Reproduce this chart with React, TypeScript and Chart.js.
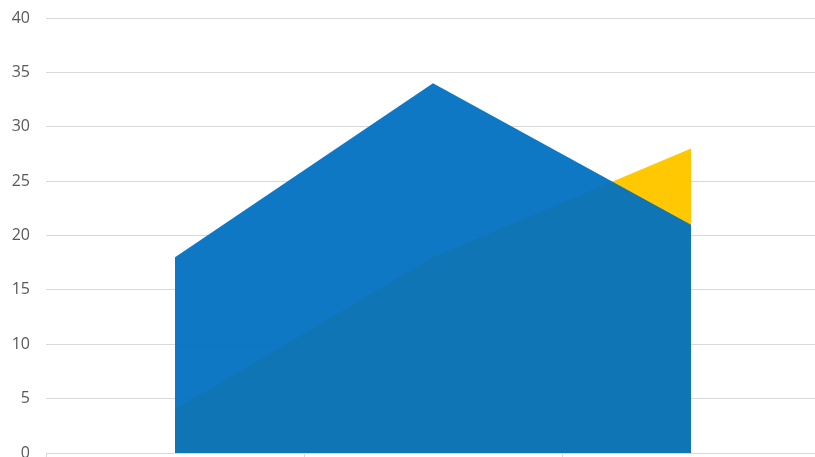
import React, { useEffect, useRef } from "react";
import { Chart, registerables } from "chart.js";

Chart.register(...registerables);

const categories = ["1", "2", "3"];
const blueSeries = [18, 34, 21];
const yellowSeries = [4, 18, 28];
const yMin = 0;
const yMax = 40;
const yStep = 5;

export default function App() {
  const ref = useRef<HTMLCanvasElement | null>(null);

  useEffect(() => {
    document.body.style.margin = "0";
    const canvas = ref.current;
    if (!canvas) return;
    const chart = new Chart(canvas, {
      type: "line",
      data: {
        labels: categories,
        datasets: [
          {
            label: "Blue",
            data: blueSeries,
            backgroundColor: "rgba(0,112,192,0.94)",
            borderColor: "rgba(0,112,192,0.94)",
            borderWidth: 0,
            pointRadius: 0,
            fill: "origin",
            tension: 0,
          },
          {
            label: "Yellow",
            data: yellowSeries,
            backgroundColor: "#FFC800",
            borderColor: "#FFC800",
            borderWidth: 0,
            pointRadius: 0,
            fill: "origin",
            tension: 0,
          },
        ],
      },
      options: {
        responsive: false,
        animation: false,
        maintainAspectRatio: false,
        layout: { padding: { top: 18, left: 12, right: 0, bottom: 0 } },
        plugins: { legend: { display: false }, tooltip: { enabled: false } },
        scales: {
          x: {
            offset: true,
            grid: {
              offset: true,
              drawOnChartArea: false,
              drawTicks: true,
              tickLength: 4,
              color: "#d9d9d9",
            },
            border: { display: true, color: "#d9d9d9", width: 1 },
            ticks: { display: false },
          },
          y: {
            min: yMin,
            max: yMax,
            afterFit: (s: any) => {
              s.paddingTop = 0;
              s.paddingBottom = 0;
              s.width = 34;
            },
            ticks: {
              stepSize: yStep,
              color: "#595959",
              font: { family: "Open Sans", size: 16 },
              padding: 16,
            },
            grid: { color: "#d9d9d9", lineWidth: 1, drawTicks: false },
            border: { display: false },
          },
        },
      },
    });
    return () => chart.destroy();
  }, []);

  return (
    <div style={{ width: 815, height: 457, overflow: "hidden", position: "relative" }}>
      <canvas ref={ref} width={820} height={457} style={{ display: "block", width: 820, height: 457 }} />
    </div>
  );
}
